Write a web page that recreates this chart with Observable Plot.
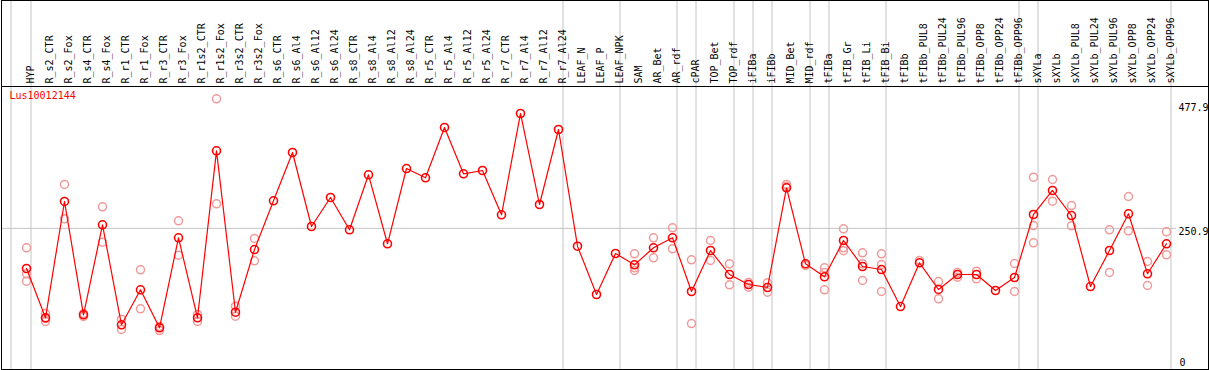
<!DOCTYPE html>
<html>
<head>
<meta charset="utf-8">
<script src="https://cdn.jsdelivr.net/npm/d3@7"></script>
<script src="https://cdn.jsdelivr.net/npm/@observablehq/plot@0.6"></script>
<style>
  html, body { margin: 0; padding: 0; background: #fff; }
  #wrap { position: relative; width: 1209px; height: 370px; }
  #border { position: absolute; left: 1px; top: 0; width: 1206px; height: 368px; border: 1px solid #000; pointer-events: none; }
  #sep { position: absolute; left: 1px; top: 86px; width: 1208px; height: 0; border-top: 1px solid #000; pointer-events: none; }
</style>
</head>
<body>
<div id="wrap"><div id="chart"></div><div id="sep"></div><div id="border"></div></div>
<script>
const geneName = "Lus10012144";

const categories = ["HYP","R_s2_CTR","R_s2_Fox","R_s4_CTR","R_s4_Fox","R_r1_CTR","R_r1_Fox","R_r3_CTR","R_r3_Fox","R_r1s2_CTR","R_r1s2_Fox","R_r3s2_CTR","R_r3s2_Fox","R_s6_CTR","R_s6_Al4","R_s6_Al12","R_s6_Al24","R_s8_CTR","R_s8_Al4","R_s8_Al12","R_s8_Al24","R_r5_CTR","R_r5_Al4","R_r5_Al12","R_r5_Al24","R_r7_CTR","R_r7_Al4","R_r7_Al12","R_r7_Al24","LEAF_N","LEAF_P","LEAF_NPK","SAM","AR_Bet","AR_rdf","cPAR","TOP_Bet","TOP_rdf","iFIBa","iFIBb","MID_Bet","MID_rdf","tFIBa","tFIB_Gr","tFIB_Li","tFIB_Bi","tFIBb","tFIBb_PUL8","tFIBb_PUL24","tFIBb_PUL96","tFIBb_OPP8","tFIBb_OPP24","tFIBb_OPP96","sXYLa","sXYLb","sXYLb_PUL8","sXYLb_PUL24","sXYLb_PUL96","sXYLb_OPP8","sXYLb_OPP24","sXYLb_OPP96"];

const means = [177.5,87.3,300.1,92.8,257.4,74.5,138.5,69.0,233.6,87.3,392.8,97.5,212.2,301.3,389.7,254.3,307.4,248.3,348.9,222.7,360.4,343.4,435.5,350.7,356.8,275.7,461.1,294.6,431.8,218.3,129.9,204.9,184.2,215.4,233.6,135.4,210.4,166.5,148.2,142.7,325.1,186.1,162.3,228.7,181.1,175.6,107.9,187.9,139.1,166.5,166.5,137.2,161.0,276.3,320.2,274.4,144.5,210.4,277.6,167.8,222.7];

const replicates = [
  [215.4,167.8,154.2],[95.1,86.0,80.5],[331.2,268.4],[95.1,89.7],[290.4,225.6],
  [84.7,65.9],[175.1,103.7],[71.4,64.0],[264.7,201.8],[93.3,80.5],
  [488.0,295.9],[108.5,90.2],[232.4,191.6],[],[],
  [],[],[],[],[],
  [],[],[],[],[],
  [],[],[],[],[],
  [],[],[204.4,178.8,173.8],[233.6,197.1],[251.9,213.5],
  [193.4,76.8],[228.7,192.1],[186.1,147.7],[151.9,143.3],[151.3,134.1],
  [331.2,327.5],[183.0],[178.8,170.2,138.5],[250.1,215.4,210.0],[206.2,186.1,155.5],
  [204.4,184.8,135.4],[],[192.1],[153.7,122.0],[170.2,161.6],
  [172.5,158.6],[],[186.6,135.4],[344.5,256.1,224.5],[340.3,300.6],
  [292.7,255.6],[],[248.3,170.2],[309.2,246.5],[190.3,146.4],
  [244.6,202.5]
];

const groupEnds = ["HYP","R_r7_Al24","LEAF_NPK","AR_rdf","cPAR","TOP_rdf","iFIBa","iFIBb","MID_rdf","tFIBa","tFIB_Bi","tFIBb_OPP96","sXYLa","sXYLb_OPP96"];
const groupStart = ["HYP"];
const yTicks = [477.9, 250.9];
const yZero = [0];

const meanData = categories.map((c, i) => ({cat: c, value: means[i]}));
const repData = categories.flatMap((c, i) => replicates[i].map(v => ({cat: c, value: v})));

const gridColor = "#c4c4c4";
const repColor = "#f09a9a";

const chart = Plot.plot({
  width: 1209,
  height: 370,
  marginTop: 86,
  marginBottom: 1,
  marginLeft: 1,
  marginRight: 33,
  style: {fontFamily: "'DejaVu Sans Mono', monospace", fontSize: "10px", background: "#fff", overflow: "visible"},
  x: {type: "point", domain: categories, range: [26, 1166], padding: 0, axis: null},
  y: {domain: [0, 477.9], range: [365, 103.8], axis: null},
  marks: [
    Plot.ruleY([250.9], {stroke: gridColor, strokeWidth: 1}),
    Plot.ruleX(groupEnds, {x: d => d, dx: 4.5, stroke: gridColor, strokeWidth: 1, insetTop: -86}),
    Plot.ruleX(groupStart, {x: d => d, dx: -15.5, stroke: gridColor, strokeWidth: 1, insetTop: -86}),
    Plot.text(categories, {x: d => d, frameAnchor: "top", rotate: -90, textAnchor: "start", dy: -3, fill: "#000"}),
    Plot.text(yTicks, {y: d => d, frameAnchor: "right", textAnchor: "start", lineAnchor: "top", dx: 2, text: d => d.toFixed(1), fill: "#000"}),
    Plot.text(yZero, {y: d => d, frameAnchor: "right", textAnchor: "start", lineAnchor: "bottom", dx: 3, text: d => String(d), fill: "#000"}),
    Plot.text([geneName], {frameAnchor: "top-left", textAnchor: "start", lineAnchor: "top", dx: 8, dy: 5, fill: "#ff0000"}),
    Plot.dot(repData, {x: "cat", y: "value", r: 4, stroke: repColor, strokeWidth: 1.5, fill: "none"}),
    Plot.line(meanData, {x: "cat", y: "value", stroke: "#ff0000", strokeWidth: 1.2}),
    Plot.dot(meanData, {x: "cat", y: "value", r: 4, stroke: "#ff0000", strokeWidth: 1.6, fill: "none"})
  ]
});
document.getElementById("chart").appendChild(chart);
</script>
</body>
</html>
